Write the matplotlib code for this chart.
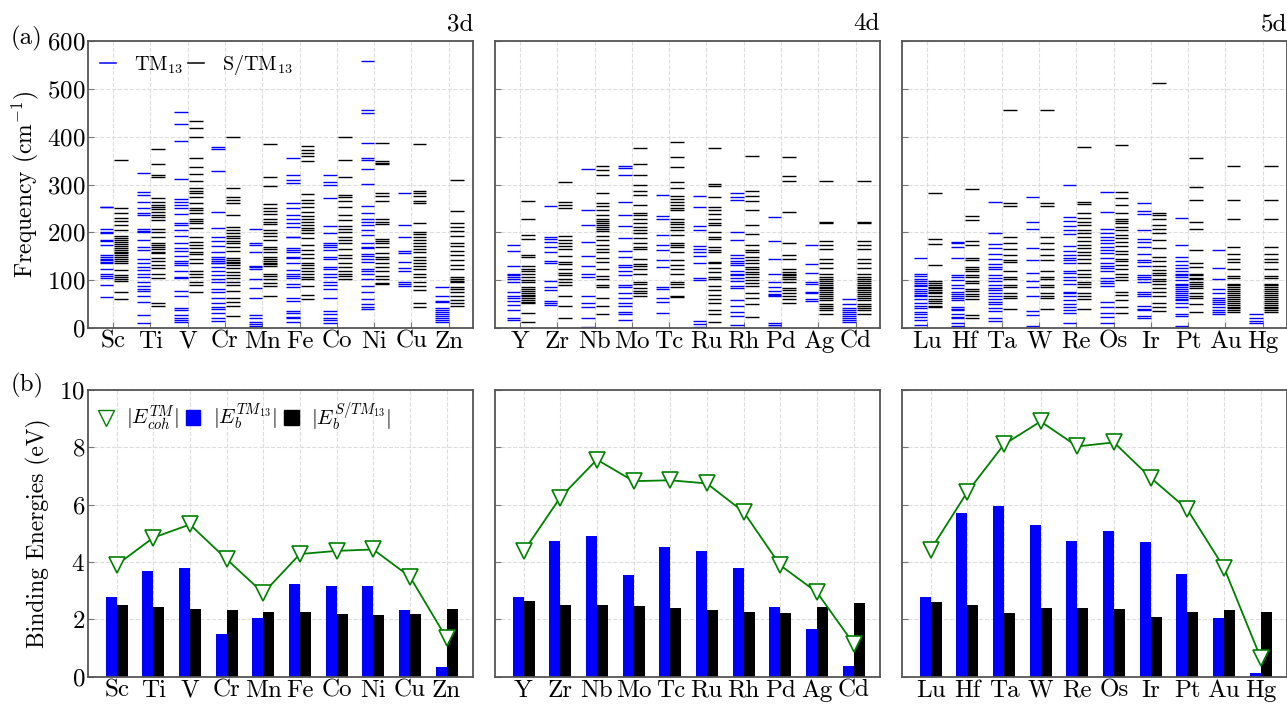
#!/usr/bin/env python

import numpy as np
import matplotlib
matplotlib.use("Agg")
import matplotlib.pyplot as plt
from matplotlib.lines import Line2D
from matplotlib.patches import Patch

plt.rcParams['font.family'] = 'cmr10'
plt.rcParams['mathtext.fontset'] = 'cm'
plt.rcParams['axes.formatter.use_mathtext'] = True
plt.rcParams['axes.unicode_minus'] = False

elements_3d = ['Sc', 'Ti', 'V', 'Cr', 'Mn', 'Fe', 'Co', 'Ni', 'Cu', 'Zn']
elements_4d = ['Y', 'Zr', 'Nb', 'Mo', 'Tc', 'Ru', 'Rh', 'Pd', 'Ag', 'Cd']
elements_5d = ['Lu', 'Hf', 'Ta', 'W', 'Re', 'Os', 'Ir', 'Pt', 'Au', 'Hg']

# vibrational frequencies (cm^-1), TM13 clusters
freq_tm13_3d = [
    [254, 253, 208, 200, 199, 185, 182, 174, 152, 148, 145, 142, 139, 136, 123, 114, 109, 104, 90, 64],
    [325, 284, 279, 263, 250, 240, 236, 207, 203, 200, 185, 170, 163, 144, 135, 128, 121, 114, 107, 97, 88, 82, 78, 66, 55, 27, 11],
    [452, 426, 392, 312, 269, 264, 258, 250, 238, 220, 216, 206, 193, 178, 167, 162, 151, 141, 137, 131, 120, 107, 105, 78, 67, 41, 38, 27, 22, 17, 12],
    [378, 375, 328, 242, 209, 191, 183, 172, 160, 149, 145, 141, 137, 135, 128, 120, 111, 102, 96, 81, 75, 63, 53, 45, 39, 32, 22, 15],
    [208, 177, 174, 158, 130, 127, 123, 103, 84, 62, 27, 22, 13, 8, 4, 1],
    [355, 320, 309, 304, 261, 252, 236, 229, 220, 212, 191, 190, 167, 163, 160, 149, 146, 135, 121, 114, 109, 104, 93, 86, 63, 57, 36, 31, 24, 20, 13],
    [320, 305, 299, 272, 213, 199, 177, 174, 169, 163, 149, 144, 128, 123, 114, 106, 96, 91, 81, 63, 35, 29, 22, 17, 11],
    [559, 456, 449, 386, 355, 351, 332, 301, 255, 241, 227, 222, 215, 205, 194, 177, 170, 167, 155, 151, 144, 139, 123, 119, 113, 102, 88, 76, 61, 50, 43, 39],
    [282, 216, 190, 162, 157, 139, 125, 120, 97, 92, 88],
    [86, 66, 57, 55, 41, 37, 33, 29, 25, 21, 17, 13],
]
freq_stm13_3d = [
    [352, 250, 241, 231, 224, 215, 205, 192, 188, 184, 180, 176, 172, 168, 164, 160, 156, 152, 148, 144, 140, 136, 121, 111, 106, 102, 98, 75, 61],
    [374, 343, 321, 316, 272, 264, 257, 254, 248, 243, 237, 232, 226, 208, 201, 191, 178, 174, 170, 166, 160, 156, 147, 141, 132, 125, 114, 105, 52, 47],
    [433, 419, 399, 355, 337, 322, 307, 293, 287, 282, 273, 262, 252, 247, 241, 228, 224, 219, 209, 191, 180, 173, 167, 160, 155, 144, 135, 120, 114, 107, 96, 89, 75],
    [400, 293, 273, 268, 262, 236, 211, 205, 199, 193, 188, 183, 177, 170, 162, 147, 143, 139, 135, 132, 125, 118, 111, 104, 97, 89, 77, 63, 55, 46, 25],
    [385, 315, 298, 259, 252, 245, 238, 229, 222, 217, 206, 198, 192, 185, 170, 165, 160, 149, 145, 141, 137, 133, 129, 114, 109, 102, 95, 88, 68],
    [381, 372, 365, 360, 349, 280, 268, 261, 254, 242, 235, 228, 222, 215, 210, 205, 198, 188, 174, 163, 155, 146, 137, 132, 125, 120, 114, 107, 102, 88, 69, 60],
    [399, 351, 316, 278, 275, 266, 254, 237, 226, 214, 208, 201, 191, 184, 177, 165, 153, 146, 137, 128, 120, 114, 109, 102],
    [386, 350, 346, 342, 282, 277, 266, 227, 222, 217, 187, 183, 177, 169, 156, 149, 144, 137, 127, 120, 109, 102, 95, 92],
    [384, 286, 282, 277, 266, 261, 220, 201, 197, 191, 184, 177, 171, 165, 159, 149, 142, 135, 130, 124, 114, 106, 97, 88, 79, 52, 43],
    [310, 245, 220, 211, 203, 193, 177, 171, 162, 152, 142, 132, 123, 107, 103, 99, 96, 86, 81, 75, 67, 59, 53, 46],
]
freq_tm13_4d = [
    [174, 162, 130, 114, 110, 106, 102, 97, 76, 68, 62, 57, 48, 38, 22, 17],
    [256, 191, 187, 179, 170, 160, 141, 135, 99, 86, 79, 57, 53, 48],
    [332, 247, 215, 179, 150, 130, 114, 106, 68, 53, 43, 20, 3],
    [338, 334, 321, 263, 237, 213, 188, 162, 149, 132, 127, 119, 111, 90, 85, 73, 63, 52, 47, 34, 29, 17],
    [279, 234, 229, 195, 174, 164, 143, 127, 86, 82, 63, 55, 31],
    [276, 254, 213, 205, 171, 165, 158, 151, 137, 104, 100, 15, 8, 3],
    [283, 273, 267, 201, 184, 153, 146, 141, 137, 131, 120, 114, 111, 104, 99, 88, 83, 59, 47, 34, 25, 6],
    [233, 183, 145, 113, 96, 86, 77, 72, 69, 66, 11, 6, 3],
    [174, 134, 116, 96, 92, 75, 73, 60, 57],
    [61, 50, 41, 37, 33, 29, 25, 21, 16, 13],
]
freq_stm13_4d = [
    [266, 228, 195, 186, 153, 149, 130, 124, 120, 113, 106, 100, 97, 86, 82, 78, 74, 70, 66, 62, 58, 55, 52, 31, 12],
    [305, 263, 258, 252, 193, 185, 178, 171, 165, 151, 139, 133, 123, 116, 110, 103, 96, 89, 66, 47, 22],
    [339, 330, 321, 282, 261, 255, 246, 236, 227, 223, 219, 215, 211, 207, 203, 193, 184, 174, 165, 160, 146, 139, 124, 109, 103, 90, 86, 63, 47, 29],
    [376, 343, 319, 300, 286, 279, 257, 241, 236, 227, 219, 212, 206, 199, 189, 178, 170, 166, 145, 134, 130, 124, 112, 96, 92, 83, 78, 73, 66],
    [388, 358, 337, 305, 293, 276, 270, 264, 257, 252, 246, 228, 222, 217, 211, 206, 194, 177, 173, 169, 158, 142, 132, 124, 114, 97, 92, 86, 68, 64],
    [376, 302, 297, 273, 253, 246, 238, 227, 219, 215, 200, 191, 186, 170, 163, 158, 139, 135, 125, 118, 107, 103, 88, 79, 69, 61, 53, 38, 29, 13],
    [360, 287, 277, 265, 246, 215, 197, 174, 163, 158, 149, 142, 135, 128, 123, 117, 112, 107, 100, 95, 88, 74, 63, 50, 24],
    [358, 318, 308, 243, 177, 152, 144, 123, 118, 114, 110, 106, 103, 96, 83, 79, 73, 66, 60, 53],
    [308, 222, 219, 182, 174, 166, 145, 135, 126, 112, 107, 103, 99, 95, 91, 86, 83, 79, 75, 71, 67, 63, 59, 50, 46, 42, 38, 29],
    [308, 222, 219, 182, 174, 166, 145, 135, 126, 112, 107, 103, 99, 95, 91, 86, 83, 79, 75, 71, 67, 63, 59, 50, 46, 42, 38, 29],
]
freq_tm13_5d = [
    [146, 114, 109, 103, 99, 95, 91, 87, 81, 77, 73, 69, 66, 60, 53, 47, 42, 33, 29, 24, 17, 6, 1],
    [180, 177, 170, 146, 110, 106, 100, 89, 84, 75, 71, 67, 63, 59, 45, 40, 38, 29, 24, 20, 11, 4],
    [263, 198, 176, 167, 154, 145, 133, 127, 124, 111, 104, 99, 89, 83, 79, 73, 68, 61, 55, 50, 41, 36, 22, 15],
    [275, 222, 208, 167, 142, 115, 99, 86, 68, 36, 27, 4],
    [299, 233, 224, 213, 205, 197, 172, 162, 152, 146, 142, 135, 120, 116, 107, 100, 92, 76, 73, 66, 59, 50, 45, 38, 32, 10],
    [285, 242, 208, 198, 191, 184, 177, 170, 163, 156, 146, 135, 130, 125, 120, 104, 99, 95, 88, 55, 44, 32, 24, 10],
    [261, 245, 238, 205, 187, 180, 169, 155, 142, 139, 130, 111, 106, 102, 97, 76, 71, 66, 47, 40, 38, 25, 20],
    [231, 174, 149, 141, 132, 125, 119, 114, 110, 106, 100, 93, 89, 85, 81, 77, 73, 69, 65, 61, 59, 52, 43, 29, 26, 4],
    [163, 126, 102, 82, 73, 63, 59, 55, 50, 45, 38, 33, 29],
    [29, 20, 15, 10],
]
freq_stm13_5d = [
    [282, 187, 176, 131, 99, 95, 91, 86, 83, 79, 75, 73, 66, 61, 57, 52, 47, 43],
    [291, 234, 226, 183, 174, 146, 142, 127, 123, 120, 110, 106, 99, 95, 82, 78, 71, 66, 60, 27, 20],
    [456, 262, 256, 190, 177, 165, 152, 142, 139, 120, 107, 103, 91, 85, 73, 68, 62, 40],
    [456, 262, 256, 190, 177, 165, 152, 142, 120, 107, 103, 91, 85, 73, 68, 62, 40],
    [379, 264, 259, 240, 230, 222, 215, 205, 199, 191, 183, 174, 167, 159, 152, 144, 135, 121, 114, 107, 96, 92, 85, 73, 66, 60, 39],
    [383, 284, 271, 257, 240, 229, 223, 219, 212, 205, 194, 188, 179, 172, 162, 155, 144, 141, 132, 123, 114, 107, 100, 76, 69, 59, 45, 31],
    [513, 241, 236, 229, 215, 208, 199, 185, 167, 149, 141, 130, 121, 115, 111, 103, 98, 93, 83, 76, 67, 53, 45, 36],
    [356, 294, 268, 221, 207, 163, 137, 128, 114, 110, 105, 103, 97, 92, 87, 83, 74, 68, 62, 50, 34],
    [339, 268, 229, 170, 154, 145, 139, 123, 109, 104, 93, 89, 85, 81, 77, 73, 69, 65, 61, 57, 53, 49, 45, 41, 38, 34],
    [339, 268, 229, 170, 154, 145, 139, 123, 109, 104, 93, 89, 85, 81, 77, 73, 69, 65, 61, 57, 53, 49, 45, 41, 38, 34],
]

# binding / cohesive energies (eV)
ecoh_3d = [3.90, 4.85, 5.31, 4.10, 2.92, 4.28, 4.39, 4.44, 3.49, 1.35]
ecoh_4d = [4.37, 6.25, 7.57, 6.82, 6.85, 6.74, 5.75, 3.89, 2.95, 1.16]
ecoh_5d = [4.43, 6.44, 8.10, 8.90, 8.03, 8.17, 6.94, 5.84, 3.81, 0.67]
eb_tm13_3d = [2.80, 3.70, 3.79, 1.50, 2.05, 3.25, 3.18, 3.17, 2.33, 0.35]
eb_tm13_4d = [2.80, 4.74, 4.92, 3.56, 4.51, 4.40, 3.81, 2.42, 1.66, 0.37]
eb_tm13_5d = [2.77, 5.71, 5.97, 5.30, 4.72, 5.10, 4.70, 3.60, 2.05, 0.14]
eb_stm13_3d = [2.52, 2.42, 2.38, 2.32, 2.27, 2.27, 2.20, 2.15, 2.20, 2.35]
eb_stm13_4d = [2.64, 2.52, 2.51, 2.47, 2.39, 2.33, 2.26, 2.22, 2.42, 2.58]
eb_stm13_5d = [2.62, 2.52, 2.22, 2.41, 2.41, 2.37, 2.08, 2.26, 2.32, 2.25]

rows = [
    ('3d', elements_3d, freq_tm13_3d, freq_stm13_3d, ecoh_3d, eb_tm13_3d, eb_stm13_3d),
    ('4d', elements_4d, freq_tm13_4d, freq_stm13_4d, ecoh_4d, eb_tm13_4d, eb_stm13_4d),
    ('5d', elements_5d, freq_tm13_5d, freq_stm13_5d, ecoh_5d, eb_tm13_5d, eb_stm13_5d),
]

FS = 18
LFS = 14.5
fig = plt.figure(figsize=(12.87, 7.04), dpi=100)
lefts = [0.0684, 0.3846, 0.7009]
W, H = 0.2991, 0.4077


def style_axes(ax):
    for s in ax.spines.values():
        s.set_color('#555555')
        s.set_linewidth(1.3)
    ax.tick_params(direction='in', length=4, color='#777777', labelsize=FS, pad=2)
    ax.grid(True, ls='--', color='#dddddd', lw=0.8)
    ax.set_axisbelow(True)


for k, (shell, names, ftm, fstm, ecoh, ebtm, ebstm) in enumerate(rows):
    x = np.arange(len(names))

    # (a) frequencies
    ax = fig.add_axes([lefts[k], 0.534, W, H])
    style_axes(ax)
    for i in range(len(names)):
        ax.hlines(ftm[i], i - 0.36, i, colors='blue', lw=1.0)
        ax.hlines(fstm[i], i + 0.03, i + 0.4, colors='black', lw=1.0)
    ax.set_xlim(-0.67, 9.65)
    ax.set_ylim(0, 600)
    ax.set_xticks(x)
    ax.set_xticklabels(names)
    ax.set_yticks(np.arange(0, 601, 100))
    ax.text(1.0, 1.02, shell, transform=ax.transAxes, ha='right', va='bottom', fontsize=FS)
    if k == 0:
        ax.set_ylabel('Frequency (cm$^{-1}$)', fontsize=17, labelpad=4)
        handles = [Line2D([], [], color='blue', lw=1.1), Line2D([], [], color='black', lw=1.1)]
        ax.legend(handles, ['TM$_{13}$', 'S/TM$_{13}$'], loc='upper left', ncol=2, frameon=False,
                  fontsize=LFS, handlelength=0.8, columnspacing=0.2, handletextpad=0.9,
                  borderaxespad=0.2)
    else:
        ax.set_yticklabels([])

    # (b) binding energies
    ax = fig.add_axes([lefts[k], 0.0385, W, H])
    style_axes(ax)
    ax.bar(x - 0.15, ebtm, width=0.3, color='blue', zorder=2)
    ax.bar(x + 0.15, ebstm, width=0.3, color='black', zorder=2)
    ax.plot(x, ecoh, color='green', lw=1.3, marker='v', ms=12, mfc='white', mec='green',
            mew=1.2, zorder=3)
    ax.set_xlim(-0.78, 9.72)
    ax.set_ylim(0, 10)
    ax.set_xticks(x)
    ax.set_xticklabels(names)
    ax.set_yticks(np.arange(0, 11, 2))
    if k == 0:
        ax.set_ylabel('Binding Energies (eV)', fontsize=17, labelpad=6)
        handles = [Line2D([], [], color='green', marker='v', ms=12, mfc='white', mec='green', lw=0),
                   Patch(color='blue'), Patch(color='black')]
        ax.legend(handles, [r'$|E_{coh}^{TM}|$', r'$|E_b^{TM_{13}}|$', r'$|E_b^{S/TM_{13}}|$'],
                  loc='upper left', ncol=3, frameon=False, fontsize=15, handlelength=0.7,
                  columnspacing=0.35, handletextpad=0.6, borderaxespad=0.1)
    else:
        ax.set_yticklabels([])

fig.text(0.008, 0.946, '(a)', fontsize=FS, va='center')
fig.text(0.008, 0.452, '(b)', fontsize=FS, va='center')

fig.savefig('out.png', dpi=100)
